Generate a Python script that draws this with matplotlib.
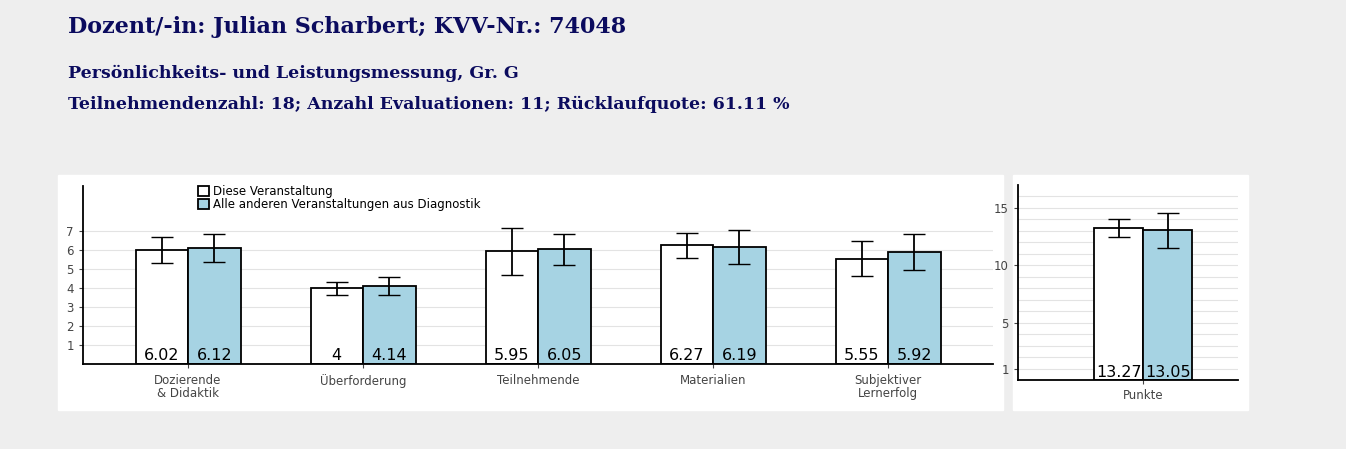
import matplotlib.pyplot as plt
import numpy as np
from matplotlib.patches import Rectangle

categories = ["Dozierende\n& Didaktik", "Überforderung", "Teilnehmende", "Materialien", "Subjektiver\nLernerfolg"]
this_vals = [6.02, 4.00, 5.95, 6.27, 5.55]
this_err = [0.67, 0.35, 1.25, 0.65, 0.92]
other_vals = [6.12, 4.14, 6.05, 6.19, 5.92]
other_err = [0.75, 0.47, 0.80, 0.90, 0.95]
this_labels = ["6.02", "4", "5.95", "6.27", "5.55"]
other_labels = ["6.12", "4.14", "6.05", "6.19", "5.92"]

punkte_vals = [13.27, 13.05]
punkte_err = [0.78, 1.55]
punkte_labels = ["13.27", "13.05"]

W, H = 1346, 449
BLUE = "#a6d3e3"
NAVY = "#0b0b5e"

fig = plt.figure(figsize=(W / 100, H / 100), dpi=100)
fig.patch.set_facecolor("#eeeeee")

def px(x0, y0, x1, y1):
    return [x0 / W, 1 - y1 / H, (x1 - x0) / W, (y1 - y0) / H]

# white panels behind the plots, in their own background axes
bg = fig.add_axes([0, 0, 1, 1], zorder=-5)
bg.set_xlim(0, W)
bg.set_ylim(H, 0)
bg.axis("off")
for x0, x1 in [(58, 1003), (1013, 1248)]:
    bg.add_patch(Rectangle((x0, 175), x1 - x0, 235, color="white"))

fig.text(68 / W, 1 - 27 / H, "Dozent/-in: Julian Scharbert; KVV-Nr.: 74048", family="DejaVu Serif",
         weight="bold", fontsize=16, color=NAVY, va="center")
fig.text(68 / W, 1 - 73 / H, "Persönlichkeits- und Leistungsmessung, Gr. G", family="DejaVu Serif",
         weight="bold", fontsize=12.5, color=NAVY, va="center")
fig.text(68 / W, 1 - 104 / H, "Teilnehmendenzahl: 18; Anzahl Evaluationen: 11; Rücklaufquote: 61.11 %",
         family="DejaVu Serif", weight="bold", fontsize=12.5, color=NAVY, va="center")

def style(ax):
    ax.set_facecolor("none")
    for s in ["top", "right"]:
        ax.spines[s].set_visible(False)
    for s in ["left", "bottom"]:
        ax.spines[s].set_linewidth(1.3)
    ax.tick_params(labelsize=8.5, colors="#444444", length=3)
    ax.grid(axis="y", color="#e3e3e3", lw=0.8, zorder=0)
    ax.set_axisbelow(True)

bw = 0.3
ax = fig.add_axes(px(83, 186, 993, 364))
style(ax)
x = np.arange(1, len(categories) + 1)
ax.bar(x - bw / 2, this_vals, bw, color="white", edgecolor="black", lw=1.3, zorder=2,
       label="Diese Veranstaltung")
ax.bar(x + bw / 2, other_vals, bw, color=BLUE, edgecolor="black", lw=1.3, zorder=2,
       label="Alle anderen Veranstaltungen aus Diagnostik")
ax.errorbar(x - bw / 2, this_vals, yerr=this_err, fmt="none", ecolor="black", capsize=8, lw=1.3, zorder=3)
ax.errorbar(x + bw / 2, other_vals, yerr=other_err, fmt="none", ecolor="black", capsize=8, lw=1.3, zorder=3)
for i in range(len(categories)):
    ax.text(x[i] - bw / 2, 0.05, this_labels[i], ha="center", va="bottom", fontsize=11.5, zorder=4)
    ax.text(x[i] + bw / 2, 0.05, other_labels[i], ha="center", va="bottom", fontsize=11.5, zorder=4)
ax.set_xlim(0.4, 5.6)
ax.set_ylim(0, 9.4)
ax.set_yticks(range(1, 8))
ax.set_xticks(x)
ax.set_xticklabels(categories, linespacing=1.0)
ax.tick_params(axis="x", pad=4)
ax.legend(loc="upper left", bbox_to_anchor=(0.12, 1.04), frameon=False, fontsize=8.5,
          handlelength=0.9, handleheight=0.9, handletextpad=0.4, labelspacing=0.0, borderpad=0)

ax2 = fig.add_axes(px(1018, 185, 1238, 380))
style(ax2)
bw2 = 0.45
ax2.bar([1 - bw2 / 2], [punkte_vals[0]], bw2, color="white", edgecolor="black", lw=1.3, zorder=2)
ax2.bar([1 + bw2 / 2], [punkte_vals[1]], bw2, color=BLUE, edgecolor="black", lw=1.3, zorder=2)
ax2.errorbar([1 - bw2 / 2, 1 + bw2 / 2], punkte_vals, yerr=punkte_err, fmt="none", ecolor="black",
             capsize=8, lw=1.3, zorder=3)
for xi, lab in zip([1 - bw2 / 2, 1 + bw2 / 2], punkte_labels):
    ax2.text(xi, 0.0, lab, ha="center", va="bottom", fontsize=11.5, zorder=4)
ax2.set_xlim(1 - 1.15, 1 + 0.87)
ax2.set_ylim(0, 17)
ax2.set_yticks([1, 5, 10, 15])
ax2.set_yticks(range(1, 17), minor=True)
ax2.grid(axis="y", which="minor", color="#e3e3e3", lw=0.8, zorder=0)
ax2.tick_params(axis="y", which="minor", length=0)
ax2.set_xticks([1])
ax2.set_xticklabels(["Punkte"])

fig.savefig("out.png", dpi=100, facecolor=fig.get_facecolor())
